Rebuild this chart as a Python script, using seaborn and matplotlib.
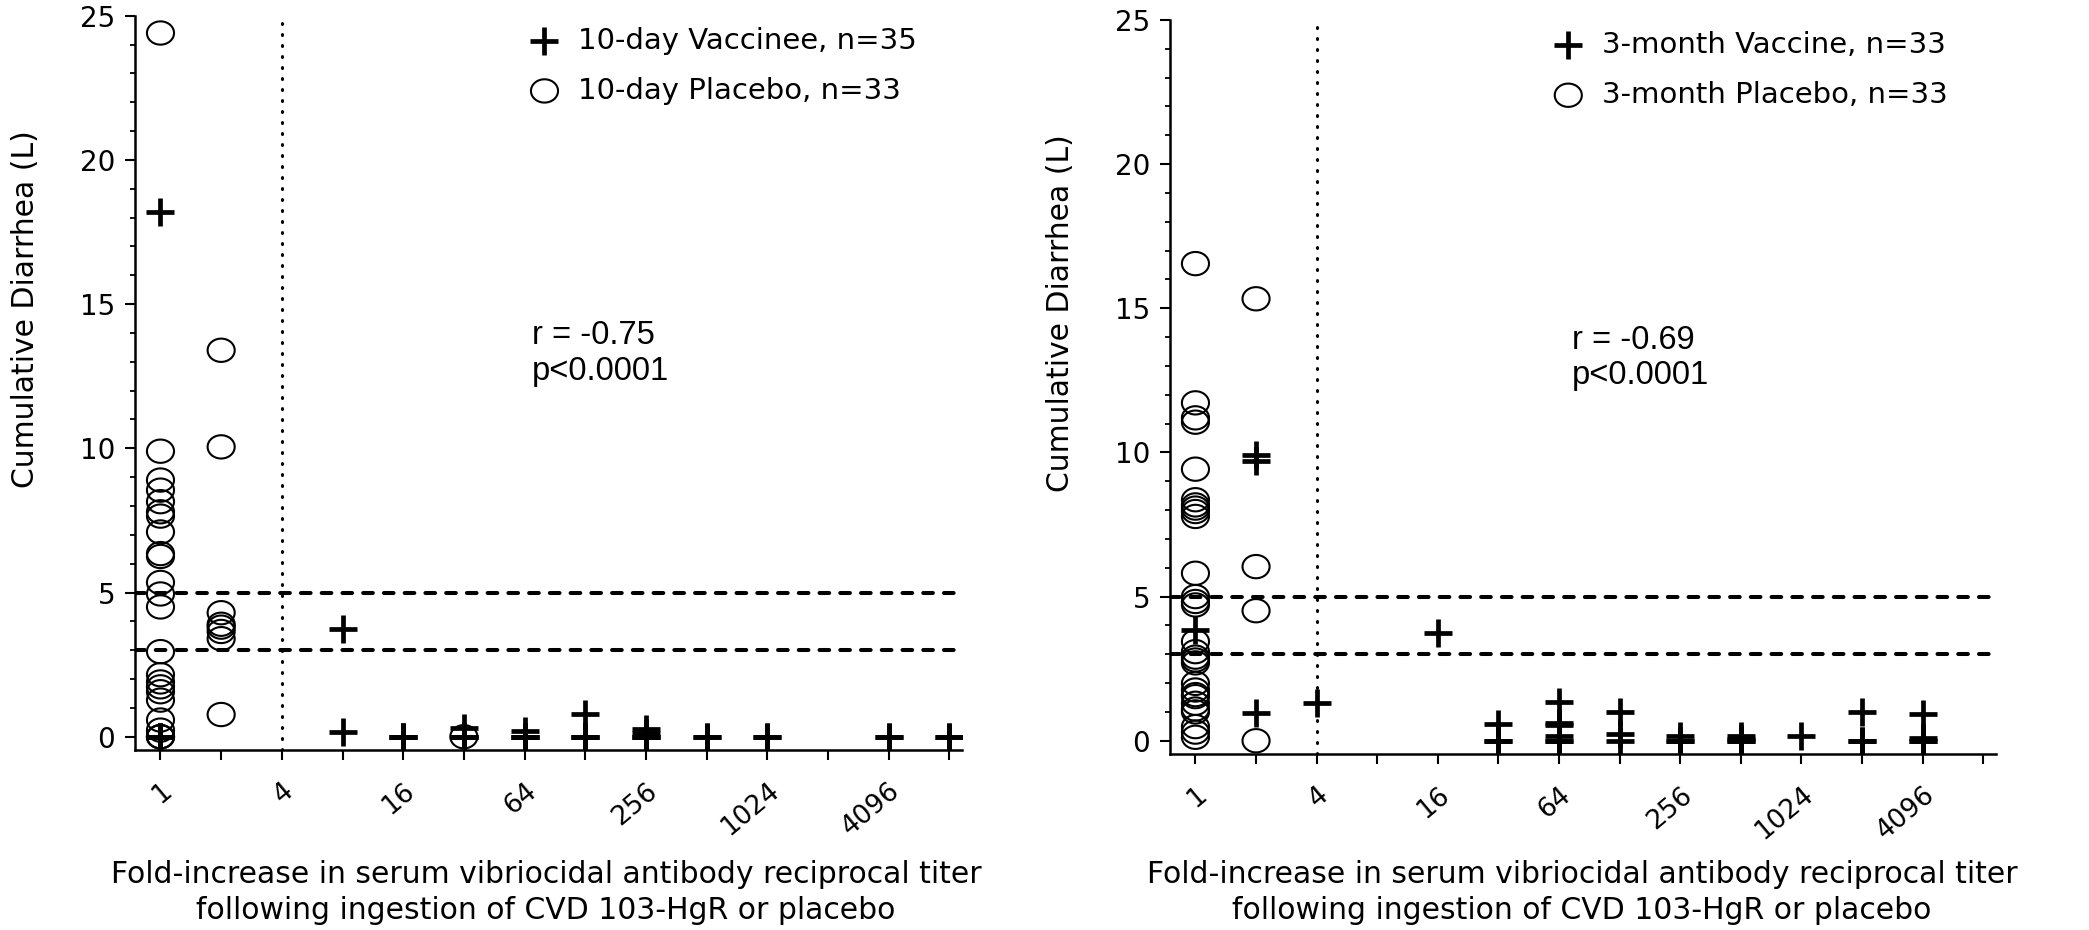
import numpy as np
import pandas as pd
import matplotlib
matplotlib.use("Agg")
import matplotlib.pyplot as plt
from matplotlib.path import Path
from matplotlib.ticker import FixedLocator, FixedFormatter, MultipleLocator
import seaborn as sns

# ---------------- data ----------------
# Left panel: 10-day challenge
vac10_x = [1, 1, 8, 8, 16, 32, 32, 64, 64, 128, 128, 256, 256, 256, 512, 1024, 4096, 8192,
           1, 1, 1, 16, 16, 32, 32, 64, 64, 128, 128, 256, 256, 512, 1024, 4096, 8192]
vac10_y = [18.2, 0, 3.75, 0.17, 0, 0.3, 0, 0.2, 0, 0.8, 0, 0.27, 0.12, 0, 0, 0, 0, 0,
           0, 0, 0, 0, 0, 0, 0, 0, 0, 0, 0, 0, 0, 0, 0, 0, 0]
pla10_x = [1] * 22 + [2] * 7 + [32] + [1, 1, 2]
pla10_y = [24.4, 9.9, 8.9, 8.55, 8.15, 7.8, 7.65, 7.1, 6.35, 6.25, 5.35, 4.95, 4.5, 2.95,
           2.15, 1.9, 1.73, 1.56, 1.27, 0.58, 0.23, 0,
           13.4, 10.05, 4.3, 3.9, 3.65, 3.4, 0.77,
           0,
           0, 0, 3.8]

# Right panel: 3-month challenge
vac3_x = [1, 2, 2, 2, 4, 16, 32, 32, 64, 64, 64, 64, 64, 128, 128, 128, 256, 256,
          512, 512, 512, 1024, 2048, 2048, 4096, 4096, 4096,
          32, 64, 256, 512, 2048, 4096]
vac3_y = [3.84, 9.92, 9.69, 0.97, 1.3, 3.73, 0.58, 0, 1.33, 0.6, 0.55, 0.17, 0, 1.0, 0.25, 0,
          0.17, 0, 0.15, 0.05, 0, 0.17, 1.0, 0, 0.93, 0.08, 0,
          0, 0, 0, 0, 0, 0]
pla3_x = [1] * 25 + [2] * 4 + [1, 1, 1, 1]
pla3_y = [16.55, 11.72, 11.2, 11.05, 9.42, 8.36, 8.18, 8.07, 7.95, 7.78, 5.81, 5.0, 4.83,
          4.71, 3.44, 3.09, 2.8, 2.7, 1.99, 1.76, 1.53, 1.3, 1.0, 0.49, 0.12,
          15.33, 6.04, 4.51, 0,
          2.9, 1.6, 1.1, 0.3]

labels_left = ["10-day Vaccinee, n=35", "10-day Placebo, n=33"]
labels_right = ["3-month Vaccine, n=33", "3-month Placebo, n=33"]
stats_left = "r = -0.75\np<0.0001"
stats_right = "r = -0.69\np<0.0001"
xtick_vals = [2 ** k for k in range(14)]
xtick_labels = [str(v) if k % 2 == 0 and v <= 4096 else "" for k, v in enumerate(xtick_vals)]
ylabel = "Cumulative Diarrhea (L)"
xlabel = "Fold-increase in serum vibriocidal antibody reciprocal titer\nfollowing ingestion of CVD 103-HgR or placebo"

# ---------------- style ----------------
sns.set_theme(style="ticks")
plt.rcParams["font.family"] = ["DejaVu Sans"]
plt.rcParams["axes.linewidth"] = 1.8

t = np.linspace(0, 2 * np.pi, 73)
ellipse = Path(np.column_stack([np.cos(t), 0.86 * np.sin(t)]), closed=True)

fig = plt.figure(figsize=(20.89, 9.30), dpi=100)
ax1 = fig.add_axes([135 / 2089, 1 - 750 / 930, 827 / 2089, (750 - 15.7) / 930])
ax2 = fig.add_axes([1170 / 2089, 1 - 754 / 930, 826 / 2089, (754 - 20) / 930])


def panel(ax, vx, vy, px, py, labs, stats, leg_x, stat_x, xlab_x, xlab_y):
    sns.scatterplot(x=vx, y=vy, ax=ax, marker="+", s=19.5 ** 2, color="black",
                    linewidth=3.4, label=labs[0], zorder=4)
    sns.scatterplot(x=px, y=py, ax=ax, marker=ellipse, s=19.5 ** 2, facecolor="none",
                    edgecolor="black", linewidth=1.5, label=labs[1], zorder=3)
    ax.set_xscale("log", base=2)
    ax.set_xlim(2 ** -0.42, 2 ** 13.21)
    ax.set_ylim(-0.46, 25)
    ax.axvline(4, color="black", lw=2.2, linestyle=(0, (0.3, 3.3)),
               dash_capstyle="round", zorder=2)
    for yv in (5, 3):
        ax.axhline(yv, color="black", lw=2.9, linestyle=(0, (2.4, 2.75)),
                   dash_capstyle="round", zorder=2)
    ax.xaxis.set_major_locator(FixedLocator(xtick_vals))
    ax.xaxis.set_major_formatter(FixedFormatter(xtick_labels))
    ax.xaxis.set_minor_locator(FixedLocator([]))
    ax.yaxis.set_major_locator(MultipleLocator(5))
    ax.yaxis.set_minor_locator(MultipleLocator(1))
    ax.tick_params(axis="x", which="major", length=7.2, width=1.5, pad=13,
                   labelsize=19, color="black", labelcolor="black")
    for lab in ax.get_xticklabels():
        lab.set_rotation(40)
        lab.set_ha("right")
        lab.set_va("top")
        lab.set_rotation_mode("anchor")
    ax.tick_params(axis="y", which="major", length=7.2, width=1.5, pad=7,
                   labelsize=20, color="black", labelcolor="black")
    ax.tick_params(axis="y", which="minor", length=3.6, width=1.3, color="black")
    sns.despine(ax=ax)
    for s in ("left", "bottom"):
        ax.spines[s].set_color("black")
    ax.set_ylabel(ylabel, fontsize=21.5, color="black", va="center")
    ax.yaxis.set_label_coords(-0.133, 0.6)
    ax.set_xlabel(xlabel, fontsize=21.5, color="black", linespacing=1.32)
    ax.xaxis.set_label_coords(xlab_x, xlab_y)
    leg = ax.legend(loc="upper left", bbox_to_anchor=(leg_x, 0.985), frameon=False,
                    handlelength=1.2, handletextpad=0.55, labelspacing=0.75, borderpad=0,
                    borderaxespad=0, fontsize=21, scatterpoints=1)
    for txt in leg.get_texts():
        txt.set_color("black")
    ax.text(stat_x, 0.585, stats, transform=ax.transAxes, fontsize=23.5,
            family="Liberation Sans", va="top", ha="left", linespacing=1.2, color="black")
    ax.grid(False)


panel(ax1, vac10_x, vac10_y, pla10_x, pla10_y, labels_left, stats_left,
      0.474, 0.48, 0.497, (750 - 860) / 734.3)
panel(ax2, vac3_x, vac3_y, pla3_x, pla3_y, labels_right, stats_right,
      0.461, 0.487, 0.499, (754 - 860) / 734.0)

fig.savefig("out.png", dpi=100, facecolor="white")
